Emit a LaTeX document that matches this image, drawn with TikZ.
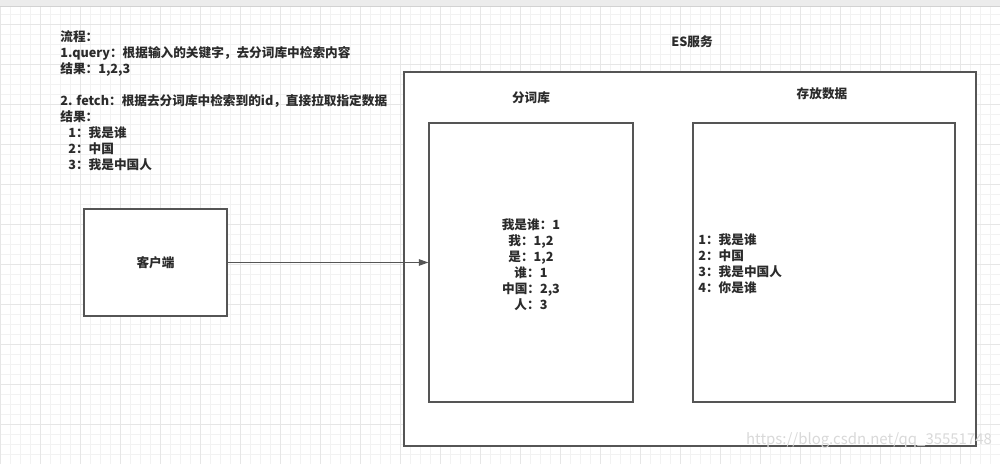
\documentclass[tikz,border=0pt]{standalone}
\usepackage{fontspec}
\setmainfont{Noto Sans CJK SC}
\usepackage{xcolor}
\usepackage{tikz}
\usetikzlibrary{positioning,arrows.meta}
\definecolor{edge}{HTML}{555555}
\definecolor{ink}{HTML}{2B2B2B}
\definecolor{gridfine}{HTML}{F2F2F2}
\definecolor{gridbold}{HTML}{E6E6E6}
\definecolor{toolbar}{HTML}{ECECEC}

\begin{document}
\begin{tikzpicture}[
  font=\fontsize{7.2}{9.1}\selectfont\bfseries,
  txt/.style={inner sep=0pt,text=ink},
  frame/.style={draw=edge,fill=white,line width=0.75pt,inner sep=0pt},
  arr/.style={-{Triangle[length=1.9mm,width=1.3mm]},line width=0.7pt,edge}
]
\useasboundingbox (0,0) rectangle (20,9.28);
% canvas with grid
\fill[white] (0,0) rectangle (20,9.28);
\draw[gridfine,line width=0.4pt,step=0.2cm] (0,0) grid (20,9.16);
\draw[gridbold,line width=0.4pt,step=0.8cm] (0,0) grid (20,9.16);
\fill[toolbar] (0,9.16) rectangle (20,9.28);
\draw[gray!35] (0,9.16) -- (20,9.16);

% notes
\node[txt,anchor=north west,align=left] (notes) at (1.2,8.68)
  {流程：\\
   1.query：根据输入的关键字，去分词库中检索内容\\
   结果：1,2,3\\
   \mbox{}\\
   2. fetch：根据去分词库中检索到的id，直接拉取指定数据\\
   结果：\\
   \hspace{0.16cm}1：我是谁\\
   \hspace{0.16cm}2：中国\\
   \hspace{0.16cm}3：我是中国人};

% boxes
\node[frame,minimum width=2.86cm,minimum height=2.14cm] (client) at (3.11,4.03) {};
\node[txt] (clientlbl) at (client.center) {客户端};
\node[frame,minimum width=11.44cm,minimum height=7.48cm] (es) at (13.80,4.10) {};
\node[txt] (eslbl) at (13.84,8.44) {ES服务};
\node[frame,minimum width=4.08cm,minimum height=5.58cm] (dict) at (10.62,4.03) {};
\node[frame,minimum width=5.24cm,minimum height=5.58cm] (store) at (16.48,4.03) {};
\node[txt] (dictlbl) at (10.62,7.32) {分词库};
\node[txt] (storelbl) at (16.44,7.40) {存放数据};

% contents
\node[txt,align=center] (dicttxt) at (10.62,3.99)
  {我是谁：1\\ 我：1,2\\ 是：1,2\\ 谁：1\\ 中国：2,3\\ 人：3};
\node[txt,align=left,anchor=west] (storetxt) at (13.96,4.00)
  {1：我是谁\\ 2：中国\\ 3：我是中国人\\ 4：你是谁};

\draw[arr] (client.east) -- (dict.west);

% watermark
\node[txt,text=gray!30,font=\fontsize{8.5}{10}\selectfont] (mark) at (17.38,0.48)
  {https://blog.csdn.net/qq\_35551748};
\end{tikzpicture}
\end{document}
